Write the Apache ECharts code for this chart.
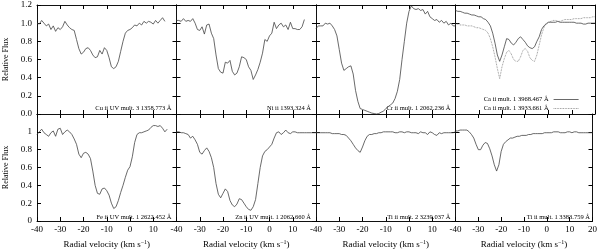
<!DOCTYPE html>
<html><head><meta charset="utf-8">
<script src="https://cdn.jsdelivr.net/npm/echarts@6/dist/echarts.min.js"></script>
<style>html,body{margin:0;padding:0;background:#fff}#c{width:600px;height:252px}</style>
</head><body><div id="c"></div>
<script>
// Velocity grid (km/s)
const vel = [-40,-39,-38,-37,-36,-35,-34,-33,-32,-31,-30,-29,-28,-27,-26,-25,-24,-23,-22,-21,-20,-19,-18,-17,-16,-15,-14,-13,-12,-11,-10,-9,-8,-7,-6,-5,-4,-3,-2,-1,0,1,2,3,4,5,6,7,8,9,10,11,12,13,14,15,16,17,18,19,20];
const xTicks = [-40,-30,-20,-10,0,10,20];
const panelLabels = ["Cu ii UV mult. 3 1358.773 Å","Ni ii 1393.324 Å","Cr ii mult. 1 2062.236 Å","",
  "Fe ii UV mult. 1 2622.452 Å","Zn ii UV mult. 1 2062.660 Å","Ti ii mult. 2 3239.037 Å","Ti ii mult. 1 3383.759 Å"];
const caNames = ["Ca ii mult. 1 3968.467 Å","Ca ii mult. 1 3933.661 Å"];

const fluxCu = [1.00,0.99,1.03,1.00,0.97,0.99,0.93,0.97,0.91,0.95,0.93,0.96,1.02,0.98,0.95,0.93,0.92,0.82,0.72,0.66,0.68,0.72,0.73,0.70,0.65,0.62,0.63,0.70,0.66,0.73,0.70,0.62,0.52,0.50,0.52,0.58,0.69,0.80,0.89,0.92,0.93,0.95,0.98,0.97,1.00,0.98,1.02,1.00,1.02,1.01,0.99,1.03,1.00,1.03,1.06,1.02];
const fluxNi = [1.03,1.03,1.02,1.05,1.02,1.03,1.02,1.05,1.00,0.93,0.92,0.96,0.88,0.98,0.99,0.89,0.83,0.65,0.50,0.46,0.45,0.57,0.56,0.59,0.47,0.43,0.45,0.52,0.63,0.62,0.60,0.52,0.48,0.38,0.43,0.49,0.57,0.67,0.82,0.80,0.86,0.89,1.01,0.94,0.98,1.00,0.96,0.98,0.93,1.01,0.94,0.94,0.93,0.93,0.96,1.04];
const fluxCr = [0.94,0.97,0.97,0.97,1.00,0.99,1.00,0.97,0.93,0.86,0.71,0.56,0.48,0.50,0.52,0.53,0.44,0.26,0.14,0.06,0.05,0.04,0.03,0.02,0.01,0.005,0.00,0.005,0.02,0.03,0.06,0.08,0.10,0.12,0.17,0.25,0.38,0.60,0.80,1.00,1.13,1.19,1.16,1.15,1.16,1.14,1.15,1.10,1.13,1.07,1.05,1.03,1.04,1.01,1.03,1.00,1.02,0.98,1.00,0.97,0.97];
const fluxCa3968 = [1.14,1.13,1.13,1.12,1.11,1.11,1.10,1.09,1.09,1.08,1.07,1.07,1.05,1.04,1.01,0.97,0.89,0.78,0.65,0.58,0.65,0.74,0.83,0.82,0.78,0.76,0.79,0.83,0.85,0.82,0.79,0.75,0.73,0.72,0.74,0.80,0.85,0.93,0.97,0.99,1.01,1.01,1.01,1.01,1.02,1.01,1.01,1.01,1.01,1.01,1.01,1.01,1.00,1.00,1.00,0.99,0.99,1.00,1.00,1.00,1.00];
const fluxCa3933 = [0.99,0.99,0.98,0.98,0.98,0.97,0.97,0.97,0.96,0.95,0.95,0.94,0.93,0.92,0.89,0.83,0.74,0.63,0.50,0.39,0.52,0.61,0.68,0.70,0.66,0.60,0.58,0.58,0.63,0.70,0.72,0.69,0.62,0.59,0.58,0.65,0.76,0.87,0.95,1.00,1.01,1.02,1.03,1.03,1.02,1.02,1.03,1.04,1.04,1.04,1.04,1.05,1.05,1.05,1.05,1.06,1.06,1.06,1.06,1.07,1.07];
const fluxFe = [0.97,1.00,1.03,0.99,0.97,0.95,0.99,1.01,0.95,1.03,1.04,0.97,1.00,1.02,1.00,0.97,0.92,0.86,0.75,0.71,0.76,0.77,0.75,0.70,0.56,0.40,0.31,0.30,0.36,0.37,0.34,0.29,0.20,0.14,0.16,0.23,0.32,0.40,0.49,0.57,0.61,0.72,0.88,0.97,0.99,0.99,1.00,1.01,1.02,1.05,1.07,1.07,1.06,1.07,1.04,1.00,1.03];
const fluxZn = [1.00,1.00,0.99,0.99,0.98,0.97,0.93,0.95,0.91,0.86,0.77,0.75,0.79,0.82,0.78,0.71,0.60,0.42,0.30,0.26,0.31,0.36,0.33,0.23,0.18,0.16,0.19,0.25,0.24,0.20,0.16,0.13,0.12,0.16,0.24,0.42,0.60,0.73,0.78,0.80,0.83,0.86,0.93,0.99,1.00,0.97,0.99,1.02,0.99,0.98,1.00,1.00,0.99,0.99,0.99,0.99,0.99,0.99,0.99,0.99,0.99];
const fluxTi3239 = [0.99,0.99,0.99,0.99,0.99,0.99,0.99,0.98,0.98,0.98,0.98,0.97,0.97,0.96,0.93,0.90,0.86,0.82,0.79,0.77,0.83,0.90,0.95,0.97,0.97,0.98,0.98,0.99,0.99,1.00,1.00,1.00,1.00,1.00,0.99,0.99,1.00,1.00,0.99,1.00,1.00,0.99,0.99,0.99,0.98,1.00,0.99,0.99,0.97,1.00,0.99,0.97,0.96,0.99,0.98,0.99,0.99,0.99,0.99,0.99,1.00];
const fluxTi3383 = [1.01,1.01,1.02,1.02,1.02,1.02,1.00,0.97,0.93,0.86,0.80,0.80,0.85,0.88,0.87,0.81,0.73,0.63,0.56,0.63,0.78,0.86,0.89,0.91,0.93,0.93,0.94,0.95,0.95,0.96,0.96,0.96,0.97,0.97,0.98,0.98,0.98,0.98,0.98,0.99,0.99,0.99,0.99,1.00,1.00,1.00,0.99,0.99,0.99,1.00,1.00,0.99,1.00,1.00,0.99,0.99,0.99,0.99,0.99,0.99,0.99];

const panelSeries = [
  [{name:"Cu", flux: fluxCu}],
  [{name:"Ni", flux: fluxNi}],
  [{name:"Cr", flux: fluxCr}],
  [{name: caNames[0], flux: fluxCa3968, dotted:false},{name: caNames[1], flux: fluxCa3933, dotted:true}],
  [{name:"Fe", flux: fluxFe}],
  [{name:"Zn", flux: fluxZn}],
  [{name:"Ti1", flux: fluxTi3239}],
  [{name:"Ti2", flux: fluxTi3383}]
];

const FONT = '"Liberation Serif","Times New Roman",serif';
const L0 = 37, R0 = 595, W = (R0 - L0) / 4, H = 109, TOPS = [5, 114];
const grids = [], xAxes = [], yAxes = [], series = [], graphics = [];
for (let i = 0; i < 8; i++) {
  const r = Math.floor(i / 4), c = i % 4;
  const left = L0 + c * W, top = TOPS[r];
  grids.push({left: left, top: top, width: W, height: H, show: false, containLabel: false});
  const tickStyle = {show: true, inside: true, length: 4, lineStyle: {color: '#000', width: 1}};
  const lineStyle = {show: true, onZero: false, lineStyle: {color: '#111', width: 1}};
  xAxes.push({
    type: 'value', gridIndex: i, min: -40, max: 20, interval: 10, position: 'bottom',
    axisLine: lineStyle, axisTick: tickStyle, splitLine: {show: false},
    axisLabel: {show: r === 1, margin: 4, color: '#000', fontFamily: FONT, fontSize: 9,
      showMinLabel: true, showMaxLabel: true,
      formatter: v => (v === 20 && c < 3) ? '' : String(v)},
    name: r === 1 ? 'Radial velocity (km s{sup|−1})' : '', nameLocation: 'middle', nameGap: 18,
    nameTextStyle: {color: '#000', fontFamily: FONT, fontSize: 9, lineHeight: 12,
      rich: {sup: {fontSize: 6, fontFamily: FONT, color: '#000', verticalAlign: 'top', lineHeight: 8}}}
  });
  xAxes.push({
    type: 'value', gridIndex: i, min: -40, max: 20, interval: 10, position: 'top',
    axisLine: lineStyle, axisTick: tickStyle, splitLine: {show: false}, axisLabel: {show: false}
  });
  yAxes.push({
    type: 'value', gridIndex: i, min: 0, max: 1.2, interval: 0.2, position: 'left',
    axisLine: lineStyle, axisTick: tickStyle, splitLine: {show: false},
    axisLabel: {show: c === 0, margin: 5, color: '#000', fontFamily: FONT, fontSize: 9,
      showMinLabel: true, showMaxLabel: true,
      formatter: v => {
        const rv = Math.round(v * 10) / 10;
        if (r === 0) return rv.toFixed(1);
        return rv > 1.1 ? '' : String(rv);
      }},
    name: c === 0 ? 'Relative Flux' : '', nameLocation: 'middle', nameGap: 27,
    nameTextStyle: {color: '#000', fontFamily: FONT, fontSize: 8}
  });
  yAxes.push({
    type: 'value', gridIndex: i, min: 0, max: 1.2, interval: 0.2, position: 'right',
    axisLine: lineStyle, axisTick: tickStyle, splitLine: {show: false}, axisLabel: {show: false}
  });
  panelSeries[i].forEach(s => {
    series.push({
      type: 'line', name: s.name, xAxisIndex: 2 * i, yAxisIndex: 2 * i,
      data: s.flux.map((f, k) => [vel[k], f]),
      showSymbol: false, symbol: 'none', silent: true,
      lineStyle: {color: s.dotted ? '#777' : '#444', width: 0.8, type: s.dotted ? 'dotted' : 'solid'},
      itemStyle: {color: s.dotted ? '#777' : '#444'}
    });
  });
  if (panelLabels[i]) {
    graphics.push({type: 'text', x: left + W - 5, y: top + H - 6,
      style: {text: panelLabels[i], align: 'right', verticalAlign: 'middle',
        font: '6.5px ' + FONT, fill: '#000'}});
  }
}

const chart = echarts.init(document.getElementById('c'), null, {renderer: 'canvas'});
chart.setOption({
  animation: false,
  grid: grids, xAxis: xAxes, yAxis: yAxes, series: series, graphic: graphics,
  legend: {
    data: [{name: caNames[0]}, {name: caNames[1]}],
    orient: 'vertical', align: 'right', right: 16, top: 91,
    itemWidth: 25, itemHeight: 7, itemGap: 2, selectedMode: false,
    itemStyle: {opacity: 0},
    lineStyle: {width: 0.8},
    textStyle: {fontFamily: FONT, fontSize: 6.5, color: '#000'}
  }
});
</script></body></html>
